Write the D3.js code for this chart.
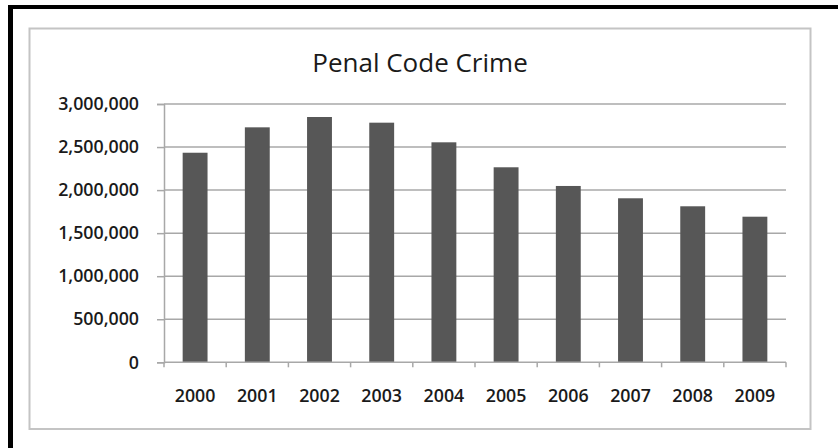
<!DOCTYPE html>
<html>
<head>
<meta charset="utf-8">
<script src="https://cdn.jsdelivr.net/npm/d3@7"></script>
<style>
  html, body { margin: 0; padding: 0; background: #fff; }
  svg { display: block; }
  text { font-family: "Open Sans", "Liberation Sans", sans-serif; fill: #1a1a1a; }
</style>
</head>
<body>
<svg id="chart" width="838" height="448"></svg>
<script>
const years = ["2000","2001","2002","2003","2004","2005","2006","2007","2008","2009"];
const crimes = [2434000, 2729000, 2849000, 2783000, 2555000, 2265000, 2048000, 1905000, 1812000, 1691000];
const yTicks = [0, 500000, 1000000, 1500000, 2000000, 2500000, 3000000];
const title = "Penal Code Crime";

(function () {
const W = 838, H = 448;
const svg = d3.select("#chart");

// outer black border (top & left)
svg.append("rect").attr("x", 8).attr("y", 5).attr("width", W - 8).attr("height", 4).attr("fill", "#000");
svg.append("rect").attr("x", 8).attr("y", 5).attr("width", 5).attr("height", H - 5).attr("fill", "#000");

// chart frame
svg.append("rect").attr("x", 29.5).attr("y", 28.5).attr("width", 781).attr("height", 400.5)
  .attr("fill", "#fff").attr("stroke", "#c4c4c4").attr("stroke-width", 2);

const pLeft = 164, pRight = 786, pTop = 104, pBottom = 362.3;

const x = d3.scaleBand().domain(years).range([pLeft, pRight]).paddingInner(0.6).paddingOuter(0.3);
const y = d3.scaleLinear().domain([0, 3000000]).range([pBottom, pTop]);

// y axis + ticks
const fmt = d3.format(",");
const yAxis = d3.axisLeft(y).tickValues(yTicks).tickSize(7).tickPadding(18).tickFormat(fmt);
const gy = svg.append("g").attr("transform", `translate(${pLeft},0)`).call(yAxis);
gy.select(".domain").attr("stroke", "#a8a8a8").attr("stroke-width", 1.5);
gy.selectAll(".tick line").attr("stroke", "#a8a8a8").attr("stroke-width", 1.5);
gy.selectAll(".tick text").attr("font-size", "17.8px").attr("fill", "#1a1a1a")
  .attr("font-family", "'Open Sans', sans-serif").attr("font-weight", 600).attr("dy", "0.32em");

// gridlines
svg.append("g").selectAll("line").data(yTicks.filter(d => d > 0)).join("line")
  .attr("x1", pLeft).attr("x2", pRight)
  .attr("y1", d => y(d)).attr("y2", d => y(d))
  .attr("stroke", "#a8a8a8").attr("stroke-width", 1.5);

// bars
svg.append("g").selectAll("rect").data(years).join("rect")
  .attr("x", d => x(d))
  .attr("width", x.bandwidth())
  .attr("y", (d, i) => y(crimes[i]))
  .attr("height", (d, i) => y(0) - y(crimes[i]))
  .attr("fill", "#575757");

// x axis
const boundaries = d3.range(years.length + 1).map(i => pLeft + i * (pRight - pLeft) / years.length);
svg.append("line").attr("x1", pLeft).attr("x2", pRight).attr("y1", pBottom).attr("y2", pBottom)
  .attr("stroke", "#a8a8a8").attr("stroke-width", 1.5);
svg.append("g").selectAll("line").data(boundaries).join("line")
  .attr("x1", d => d).attr("x2", d => d).attr("y1", pBottom).attr("y2", pBottom + 5)
  .attr("stroke", "#a8a8a8").attr("stroke-width", 1.5);
svg.append("g").selectAll("text").data(years).join("text")
  .attr("x", d => x(d) + x.bandwidth() / 2)
  .attr("y", 402.3)
  .attr("text-anchor", "middle")
  .attr("font-size", "17.8px").attr("font-weight", 600)
  .text(d => d);

// title
svg.append("text").attr("x", 420).attr("y", 71.7).attr("text-anchor", "middle")
  .attr("font-size", "26px").attr("font-weight", 400).attr("fill", "#111").text(title);
})();
</script>
</body>
</html>
